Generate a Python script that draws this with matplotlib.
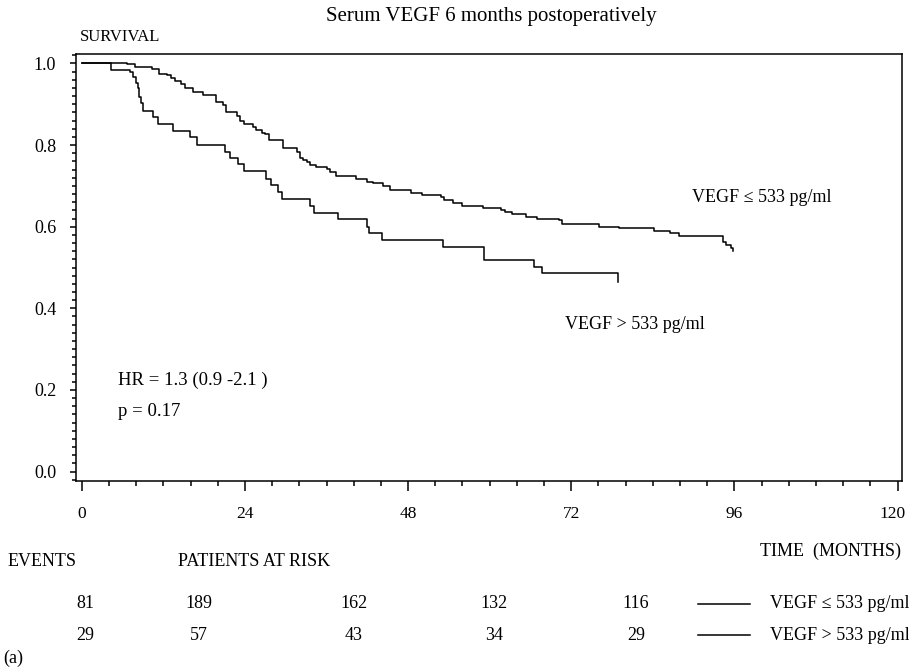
import numpy as np
import matplotlib
matplotlib.use('Agg')
import matplotlib.pyplot as plt
from matplotlib.ticker import MultipleLocator
from matplotlib.transforms import ScaledTranslation

plt.rcParams['font.family'] = ['Liberation Serif', 'DejaVu Serif']

# Kaplan-Meier steps: (months, survival after the step)
low_t = [0, 6.61, 7.9, 10.4, 11.4, 12.5, 13.2, 13.7, 14.6, 15.2, 16.4, 17.8,
         19.8, 20.8, 21.2, 22.9, 23.3, 23.85, 25.2, 25.7, 26.5, 26.9, 27.6,
         29.6, 31.6, 32.1, 32.6, 33.1, 33.55, 34.4, 36.0, 36.5, 37.4, 40.3,
         40.65, 42.0, 42.9, 44.3, 45.3, 48.5, 50.1, 52.9, 53.3, 54.6, 56.0,
         59.0, 61.6, 62.2, 63.3, 65.4, 67.0, 70.2, 70.6, 76.1, 79.0, 84.1,
         86.5, 87.9, 94.3, 94.8, 95.5, 95.76]
low_s = [1.0, 0.998, 0.991, 0.987, 0.975, 0.971, 0.965, 0.957, 0.949, 0.939,
         0.930, 0.922, 0.906, 0.898, 0.880, 0.870, 0.860, 0.851, 0.843, 0.837,
         0.830, 0.826, 0.812, 0.793, 0.784, 0.769, 0.763, 0.759, 0.751, 0.745,
         0.741, 0.735, 0.725, 0.718, 0.716, 0.709, 0.706, 0.700, 0.691, 0.683,
         0.678, 0.672, 0.665, 0.659, 0.651, 0.646, 0.641, 0.637, 0.631, 0.624,
         0.620, 0.616, 0.606, 0.600, 0.596, 0.590, 0.584, 0.577, 0.563, 0.555,
         0.548, 0.540]

high_t = [0, 4.26, 7.1, 7.58, 7.94, 8.23, 8.47, 8.67, 8.97, 10.52, 11.17,
          13.46, 15.92, 16.9, 21.06, 21.87, 23.0, 23.85, 27.1, 27.9, 28.8,
          29.5, 33.55, 34.1, 37.7, 41.9, 42.3, 44.1, 53.06, 59.1, 66.5, 67.75,
          78.86]
high_s = [1.0, 0.984, 0.979, 0.967, 0.951, 0.939, 0.918, 0.902, 0.883, 0.869,
          0.851, 0.834, 0.820, 0.799, 0.782, 0.769, 0.753, 0.736, 0.718, 0.702,
          0.684, 0.667, 0.651, 0.634, 0.618, 0.600, 0.584, 0.567, 0.550, 0.519,
          0.502, 0.486, 0.464]

group_labels = ['VEGF \u2264 533 pg/ml', 'VEGF > 533 pg/ml']
events = [81, 29]
at_risk = [[189, 162, 132, 116], [57, 43, 34, 29]]

W, H = 909, 672
fig = plt.figure(figsize=(W / 100, H / 100), dpi=100)


def px(x, y):
    return x / W, 1 - y / H


ax = fig.add_axes([76 / W, 1 - 481 / H, (902.3 - 76) / W, (481 - 54) / H])
ax.step(low_t, low_s, where='post', color='black', lw=1.1)
ax.step(high_t, high_s, where='post', color='black', lw=1.1)

ax.set_xlim(-0.84, 120.68)
ax.set_ylim(-0.023, 1.023)
ax.set_xticks(np.arange(0, 121, 24))
ax.xaxis.set_minor_locator(MultipleLocator(4))
ax.set_yticks(np.arange(0, 1.01, 0.2))
ax.set_yticklabels(['%.1f' % v for v in np.arange(0, 1.01, 0.2)])
ax.yaxis.set_minor_locator(MultipleLocator(0.02))
for s in ax.spines.values():
    s.set_linewidth(1.1)
ax.tick_params(axis='x', which='major', length=7, width=1.1, pad=11, labelsize=12.5)
ax.tick_params(axis='x', which='minor', length=3.6, width=1.1)
ax.tick_params(axis='y', which='major', length=4.3, width=1.1, pad=10, labelsize=13)
ax.tick_params(axis='y', which='minor', length=3, width=1.1)

# last x label sits a bit left of its tick, as in the original
fig.canvas.draw()
last = ax.get_xticklabels()[-1]
last.set_transform(last.get_transform() + ScaledTranslation(-4 / 72, 0, fig.dpi_scale_trans))

fig.text(*px(491, 17), 'Serum VEGF 6 months postoperatively', ha='center', va='center', fontsize=15)
fig.text(*px(80, 37), 'SURVIVAL', ha='left', va='center', fontsize=12)

fig.text(*px(692, 197), group_labels[0], ha='left', va='center', fontsize=13)
fig.text(*px(565, 324), group_labels[1], ha='left', va='center', fontsize=13)
fig.text(*px(118, 380), 'HR = 1.3 (0.9 -2.1 )', ha='left', va='center', fontsize=13.5)
fig.text(*px(118, 411), 'p = 0.17', ha='left', va='center', fontsize=13.5)

fig.text(*px(901, 551), 'TIME  (MONTHS)', ha='right', va='center', fontsize=13)
fig.text(*px(8, 562), 'EVENTS', ha='left', va='center', fontsize=13)
fig.text(*px(178, 562), 'PATIENTS AT RISK', ha='left', va='center', fontsize=13)

col_x = [199, 354, 494, 636]
row_y = [604, 635]
for i in range(2):
    y = row_y[i]
    fig.text(*px(85, y), str(events[i]), ha='center', va='center', fontsize=13)
    for cx, n in zip(col_x, at_risk[i]):
        fig.text(*px(cx, y), str(n), ha='center', va='center', fontsize=13)
    fig.add_artist(plt.Line2D([698 / W, 750 / W], [1 - y / H, 1 - y / H], color='black', lw=1.1))
    fig.text(*px(770, y), group_labels[i], ha='left', va='center', fontsize=13)

fig.text(*px(3, 658), '(a)', ha='left', va='center', fontsize=13)

fig.savefig('out.png', dpi=100)
